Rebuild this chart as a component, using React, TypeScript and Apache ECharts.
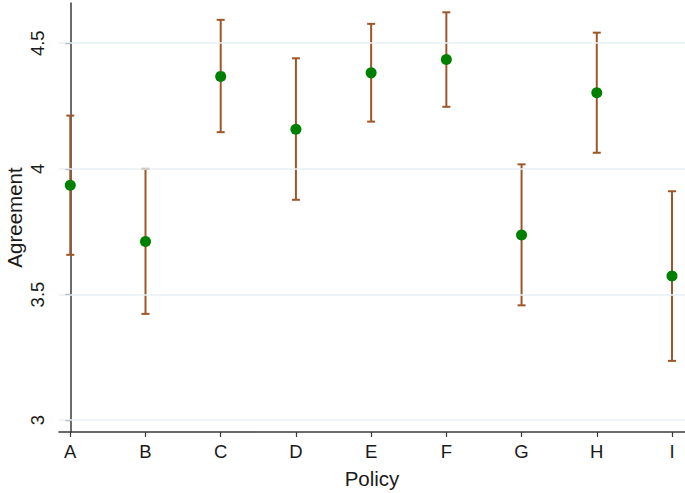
import React, { useEffect, useRef } from "react";
import * as echarts from "echarts";

const categories = ["A", "B", "C", "D", "E", "F", "G", "H", "I"];
const means = [3.935, 3.711, 4.368, 4.158, 4.382, 4.435, 3.737, 4.303, 3.574];
const upper = [4.212, 4.0, 4.593, 4.44, 4.577, 4.623, 4.018, 4.542, 3.911];
const lower = [3.658, 3.423, 4.146, 3.877, 4.188, 4.247, 3.457, 4.064, 3.236];
const yTicks = [3, 3.5, 4, 4.5];

const FONT = "'Liberation Sans', Arial, Helvetica, sans-serif";
const AXIS_COLOR = "#3a3a3a";
const BAR_COLOR = "#9E5628";
const POINT_COLOR = "#008000";

export default function App() {
  const ref = useRef<HTMLDivElement>(null);
  useEffect(() => {
    if (!ref.current) return;
    const chart = echarts.init(ref.current, null, { renderer: "svg" });
    const idx = categories.map((_, i) => i);
    const option = {
      animation: false,
      backgroundColor: "#ffffff",
      grid: { left: 59, right: 0, top: 3, bottom: 61, containLabel: false, outerBoundsMode: "none" },
      xAxis: {
        type: "value",
        min: -0.15,
        max: 8.173,
        name: "Policy",
        nameLocation: "middle",
        nameGap: 36,
        nameMoveOverlap: false,
        nameTextStyle: { fontFamily: FONT, fontSize: 20.5, color: "#1a1a1a" },
        axisLine: { show: true, lineStyle: { color: AXIS_COLOR, width: 1.5 } },
        axisTick: { show: true, length: 5, customValues: idx, lineStyle: { color: AXIS_COLOR, width: 1.2 } },
        axisLabel: {
          customValues: idx,
          formatter: (v: number) => categories[Math.round(v)] ?? "",
          fontFamily: FONT,
          fontSize: 18.5,
          color: "#1a1a1a",
          margin: 10,
        },
        splitLine: { show: false },
      },
      yAxis: {
        type: "value",
        min: 2.953,
        max: 4.66,
        name: "Agreement",
        nameLocation: "middle",
        nameGap: 34,
        nameMoveOverlap: false,
        nameRotate: 90,
        nameTextStyle: { fontFamily: FONT, fontSize: 20.5, color: "#1a1a1a" },
        axisLine: { show: true, lineStyle: { color: AXIS_COLOR, width: 1.5 } },
        axisTick: { show: true, length: 5, customValues: yTicks, lineStyle: { color: AXIS_COLOR, width: 1.2 } },
        axisLabel: {
          customValues: yTicks,
          rotate: 90,
          fontFamily: FONT,
          fontSize: 18.5,
          color: "#1a1a1a",
          margin: 12,
          formatter: (v: number) => String(v),
        },
        splitLine: { show: false },
      },
      series: [
        {
          type: "line",
          data: [],
          markLine: {
            silent: true,
            symbol: "none",
            label: { show: false },
            lineStyle: { color: "#e6f0f4", width: 1.5, type: "solid" },
            data: yTicks.map((t) => ({ yAxis: t })),
          },
        },
        {
          type: "custom",
          data: idx.map((i) => [i, lower[i], upper[i]]),
          renderItem: (params: any, api: any) => {
            const x = api.value(0);
            const lo = api.coord([x, api.value(1)]);
            const hi = api.coord([x, api.value(2)]);
            const hw = 4;
            const style = { stroke: BAR_COLOR, lineWidth: 2 };
            return {
              type: "group",
              children: [
                { type: "line", shape: { x1: lo[0], y1: lo[1], x2: hi[0], y2: hi[1] }, style },
                { type: "line", shape: { x1: lo[0] - hw, y1: lo[1], x2: lo[0] + hw, y2: lo[1] }, style },
                { type: "line", shape: { x1: hi[0] - hw, y1: hi[1], x2: hi[0] + hw, y2: hi[1] }, style },
              ],
            };
          },
          z: 3,
        },
        {
          type: "scatter",
          data: idx.map((i) => [i, means[i]]),
          symbol: "circle",
          symbolSize: 11,
          itemStyle: { color: POINT_COLOR, opacity: 1 },
          z: 4,
        },
      ],
    };
    chart.setOption(option as any);
    return () => chart.dispose();
  }, []);
  return (
    <div
      ref={ref}
      style={{ position: "fixed", left: 0, top: 0, width: 685, height: 493, background: "#fff" }}
    />
  );
}
